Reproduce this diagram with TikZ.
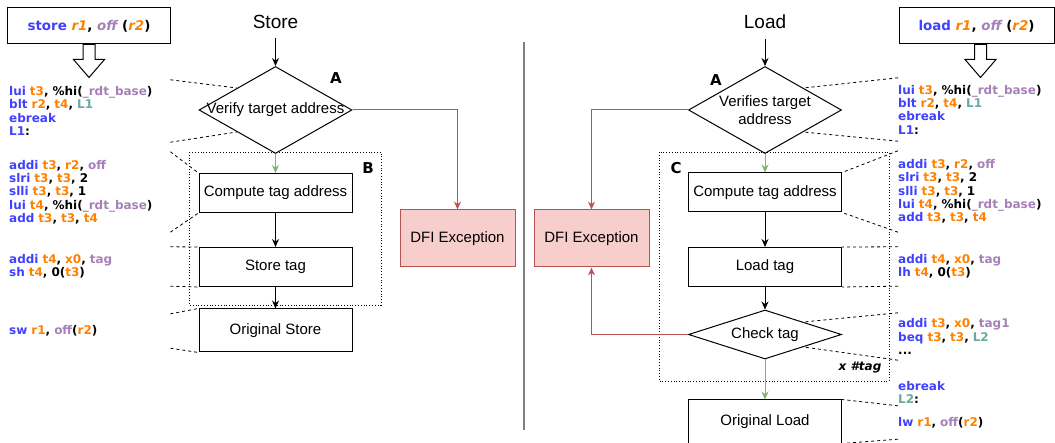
\documentclass[tikz,border=0pt]{standalone}
\usepackage{fontspec}
\setmainfont{Liberation Sans}
\newfontfamily\codefont{DejaVu Sans}
\usepackage{xcolor}
\usetikzlibrary{shapes.geometric,arrows.meta}
\definecolor{opblue}{HTML}{4040FF}
\definecolor{regorange}{HTML}{FF8000}
\definecolor{sympurple}{HTML}{A680B8}
\definecolor{labteal}{HTML}{67AB9F}
\definecolor{dfifill}{HTML}{F8CECC}
\definecolor{dfiline}{HTML}{B85450}
\definecolor{okgreen}{HTML}{82B366}
\newcommand{\cop}[1]{\textcolor{opblue}{#1}}
\newcommand{\creg}[1]{\textcolor{regorange}{#1}}
\newcommand{\csym}[1]{\textcolor{sympurple}{#1}}
\newcommand{\clab}[1]{\textcolor{labteal}{#1}}

\begin{document}
\begin{tikzpicture}[x=1pt, y=-1pt,
    procbox/.style={draw, line width=1pt, minimum width=153pt, minimum height=39pt, inner sep=0pt, font=\fontsize{15}{18}\selectfont},
    decision/.style={draw, diamond, line width=1pt, inner sep=0pt, minimum width=153pt, minimum height=87pt},
    dectext/.style={align=center, font=\fontsize{15}{18}\selectfont},
    dfibox/.style={draw=dfiline, fill=dfifill, line width=1pt, minimum width=115pt, minimum height=57pt, font=\fontsize{15}{18}\selectfont},
    codeblock/.style={anchor=west, inner sep=0pt, text width=161pt, align=left, font=\codefont\bfseries\fontsize{12}{13.3}\selectfont},
    instrbox/.style={draw, line width=1pt, minimum width=163pt, minimum height=36pt, font=\codefont\bfseries\fontsize{13.4}{16}\selectfont},
    flowlbl/.style={font=\fontsize{19}{22}\selectfont},
    steplbl/.style={font=\codefont\bfseries\fontsize{15}{18}\selectfont},
    flow/.style={-{Stealth[length=8pt,width=7pt]}, line width=1pt},
    okflow/.style={flow, draw=okgreen},
    errflow/.style={flow, draw=dfiline},
    guide/.style={dashed, line width=0.8pt},
    groupbox/.style={dotted, line width=0.8pt},
    hollow/.style={draw, line width=1pt, fill=white}]
\useasboundingbox (0,0) rectangle (1055,443);

% store side
\node[instrbox] (stinstr) at (89,26) {\cop{store} \creg{\itshape r1}, \csym{\itshape off} (\creg{\itshape r2})};
\draw[hollow] ([xshift=-6pt]stinstr.south) -- ++(0,15) -- ++(-9.5,0) -- ++(15.5,18) -- ++(15.5,-18) -- ++(-9.5,0) -- ++(0,-15) -- cycle;

\node[codeblock, minimum height=62pt] (lc1) at (9,111) {\cop{lui} \creg{t3}, \%hi(\csym{\_rdt\_base})\\ \cop{blt} \creg{r2}, \creg{t4}, \clab{L1}\\ \cop{ebreak}\\ \cop{L1}:};
\node[codeblock, minimum height=80pt] (lc2) at (9,192) {\cop{addi} \creg{t3}, \creg{r2}, \csym{off}\\ \cop{slri} \creg{t3}, \creg{t3}, 2\\ \cop{slli} \creg{t3}, \creg{t3}, 1\\ \cop{lui} \creg{t4}, \%hi(\csym{\_rdt\_base})\\ \cop{add} \creg{t3}, \creg{t3}, \creg{t4}};
\node[codeblock, minimum height=39pt] (lc3) at (9,266.5) {\cop{addi} \creg{t4}, \creg{x0}, \csym{tag}\\ \cop{sh} \creg{t4}, 0(\creg{t3})};
\node[codeblock, minimum height=34pt] (lc4) at (9,331) {\cop{sw} \creg{r1}, \csym{off}(\creg{r2})};

\node[flowlbl] (stlbl) at (275.5,22) {Store};
\node[decision] (va) at (275.5,110) {};
\node[dectext] (vatext) at (va.center) {Verify target address};
\node[steplbl] (alblL) at (336,78) {A};
\draw[groupbox] (189,152) rectangle (381,305);
\node[steplbl] (blbl) at (368,168) {B};
\node[procbox] (sct) at (275.5,193) {Compute tag address};
\node[procbox] (stag) at (275.5,267) {Store tag};
\node[procbox, minimum height=43pt] (ost) at (275.5,330.5) {Original Store};
\node[dfibox] (dfil) at (457.5,238.5) {DFI Exception};

\draw[flow, shorten <=6pt] (stlbl.south) -- (va.north);
\draw[okflow] (va.south) -- (sct.north);
\draw[flow] (sct.south) -- (stag.north);
\draw[flow] (stag.south) -- (ost.north);
\draw[errflow] (va.east) -| (dfil.north);

\draw[guide] (lc1.north east) -- (va.north west);
\draw[guide] (lc1.south east) -- (va.south west);
\draw[guide] (lc2.north east) -- (sct.north west);
\draw[guide] (lc2.south east) -- (sct.south west);
\draw[guide] (lc3.north east) -- (stag.north west);
\draw[guide] (lc3.south east) -- (stag.south west);
\draw[guide] (lc4.north east) -- (ost.north west);
\draw[guide] (lc4.south east) -- (ost.south west);

\draw[gray, line width=1.5pt] (524,42) -- (524,430);

% load side
\node[flowlbl] (ldlbl) at (765,22) {Load};
\node[decision] (vb) at (765,110) {};
\node[dectext] (vbtext) at (vb.center) {Verifies target\\address};
\node[steplbl] (alblR) at (716,80) {A};
\draw[groupbox] (659,152) rectangle (889,381);
\node[steplbl] (clbl) at (676,168) {C};
\node[font=\codefont\bfseries\itshape\fontsize{12}{14}\selectfont] (ntag) at (860,367) {x \#tag};
\node[procbox] (rct) at (765,192.5) {Compute tag address};
\node[procbox] (ltag) at (765,267) {Load tag};
\node[decision, minimum height=49pt] (ct) at (765,334.5) {};
\node[dectext] (cttext) at (ct.center) {Check tag};
\node[procbox, minimum height=43pt] (old) at (765,421.5) {Original Load};
\node[dfibox] (dfir) at (591.5,238.5) {DFI Exception};

\draw[flow, shorten <=6pt] (ldlbl.south) -- (vb.north);
\draw[okflow] (vb.south) -- (rct.north);
\draw[flow] (rct.south) -- (ltag.north);
\draw[flow] (ltag.south) -- (ct.north);
\draw[okflow] (ct.south) -- (old.north);
\draw[errflow] (vb.west) -| (dfir.north);
\draw[errflow] (ct.west) -| (dfir.south);

\node[instrbox, minimum width=155pt] (ldinstr) at (976.5,26) {\cop{load} \creg{\itshape r1}, \csym{\itshape off} (\creg{\itshape r2})};
\draw[hollow] ([xshift=-2pt]ldinstr.south) -- ++(0,15) -- ++(-9.5,0) -- ++(15.5,18) -- ++(15.5,-18) -- ++(-9.5,0) -- ++(0,-15) -- cycle;

\node[codeblock, minimum height=63pt] (rc1) at (898,109.5) {\cop{lui} \creg{t3}, \%hi(\csym{\_rdt\_base})\\ \cop{blt} \creg{r2}, \creg{t4}, \clab{L1}\\ \cop{ebreak}\\ \cop{L1}:};
\node[codeblock, minimum height=81pt] (rc2) at (898,191.5) {\cop{addi} \creg{t3}, \creg{r2}, \csym{off}\\ \cop{slri} \creg{t3}, \creg{t3}, 2\\ \cop{slli} \creg{t3}, \creg{t3}, 1\\ \cop{lui} \creg{t4}, \%hi(\csym{\_rdt\_base})\\ \cop{add} \creg{t3}, \creg{t3}, \creg{t4}};
\node[codeblock, minimum height=39pt] (rc3) at (898,266.5) {\cop{addi} \creg{t4}, \creg{x0}, \csym{tag}\\ \cop{lh} \creg{t4}, 0(\creg{t3})};
\node[codeblock, minimum height=47pt] (rc4) at (898,336.5) {\cop{addi} \creg{t3}, \creg{x0}, \csym{tag1}\\ \cop{beq} \creg{t3}, \creg{t3}, \clab{L2}\\ ...};
\node[codeblock] (rc5) at (898,392.5) {\cop{ebreak}\\ \clab{L2}:};
\node[codeblock, minimum height=33pt] (rc6) at (898,422.5) {\cop{lw} \creg{r1}, \csym{off}(\creg{r2})};

\draw[guide] (rc1.north west) -- (vb.north east);
\draw[guide] (rc1.south west) -- (vb.south east);
\draw[guide] (rc2.north west) -- (rct.north east);
\draw[guide] (rc2.south west) -- (rct.south east);
\draw[guide] (rc3.north west) -- (ltag.north east);
\draw[guide] (rc3.south west) -- (ltag.south east);
\draw[guide] (rc4.north west) -- (ct.north east);
\draw[guide] (rc4.south west) -- (ct.south east);
\draw[guide] (rc6.north west) -- (old.north east);
\draw[guide] (rc6.south west) -- (old.south east);
\end{tikzpicture}
\end{document}
